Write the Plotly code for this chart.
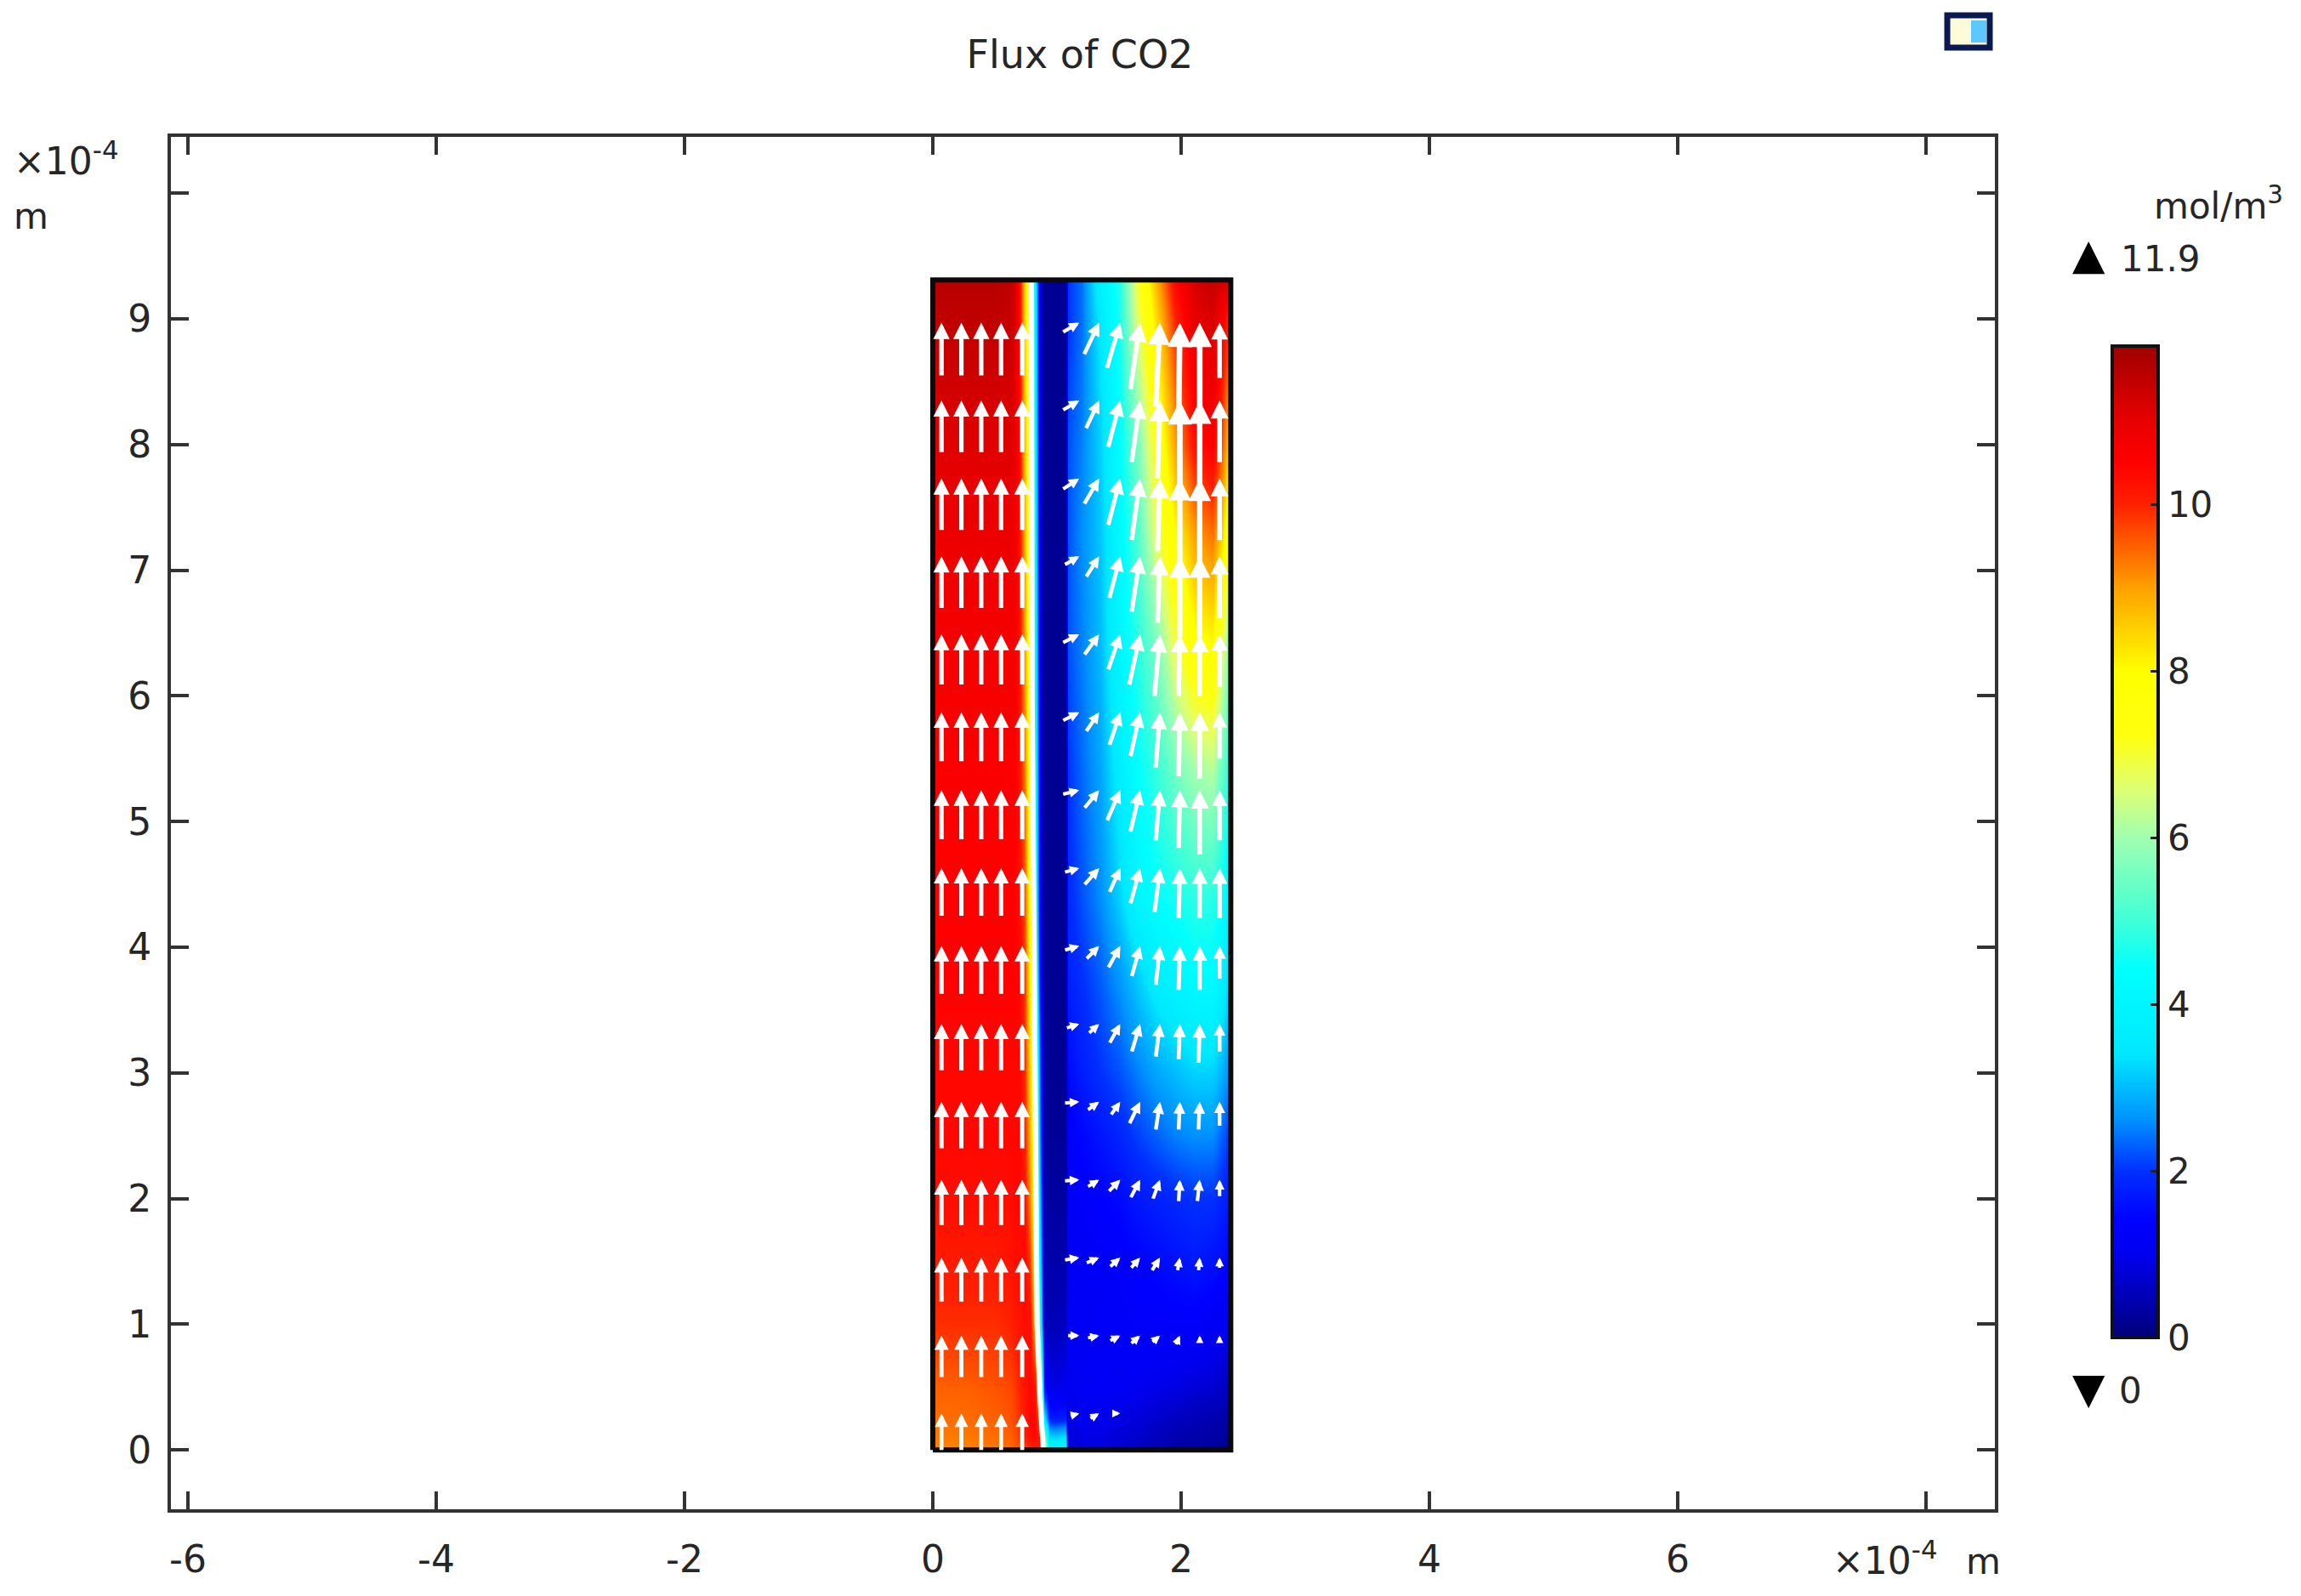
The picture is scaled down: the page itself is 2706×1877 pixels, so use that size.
import math
import plotly.graph_objects as go

TITLE = "Flux of CO2"
X_TICKS = [-6, -4, -2, 0, 2, 4, 6, 8]
X_LABELS = ["-6", "-4", "-2", "0", "2", "4", "6", ""]
Y_TICKS = list(range(0, 11))
Y_LABELS = ["0", "1", "2", "3", "4", "5", "6", "7", "8", "9", ""]
CB_TICKS = [0, 2, 4, 6, 8, 10]
Z_MIN, Z_MAX = 0, 11.9

# concentration field (mol/m3), x and y in 1e-4 m
FIELD_X = [0, .25, .5, .62, .66, .70, .74, .78, .82, .86, .90, .94, .98, 1.07,
           1.09, 1.2, 1.35, 1.5, 1.65, 1.8, 1.95, 2.1, 2.25, 2.33, 2.4]
FIELD_Y = [0, .1, .25, .5, 1, 1.5, 2, 2.5, 3, 3.8, 4.4, 5.4, 6.4, 7.3, 8, 9, 9.31]
FIELD_Z = [
 [9.2,9.2,9.3,9.4,9.5,9.6,9.7,9.8,9.9,10.4,7,4.2,4,4.2, .7,.8,.8,.7,.6,.5,.35,.3,.25,.2,.15],
 [9.3,9.3,9.4,9.5,9.6,9.8,10,10.3,10.4,10,6,3.3,3.2,3.4, .8,.9,.9,.8,.7,.55,.45,.4,.35,.3,.25],
 [9.4,9.4,9.5,9.6,9.7,9.9,10.1,10.4,10.4,9.2,3.6,1.8,1.7,1.8, .9,1,1,.9,.8,.7,.6,.5,.45,.4,.3],
 [9.5,9.5,9.6,9.7,9.8,10,10.2,10.4,10.2,7.8,1.5,1,.9,1, 1,1.1,1.2,1.1,1.05,.95,.9,.8,.75,.65,.6],
 [9.9,9.9,9.9,10,10.1,10.2,10.3,10.3,8.8,4.6,.6,.5,.5,.6, 1.1,1.15,1.2,1.25,1.3,1.3,1.3,1.3,1.2,1.1,1],
 [10.1,10.1,10.1,10.2,10.3,10.3,10.4,9.8,8,3.6,.5,.4,.4,.4, 1.1,1.2,1.25,1.3,1.4,1.5,1.6,1.7,1.6,1.5,1.4],
 [10.3,10.3,10.3,10.3,10.4,10.4,10.2,9.2,7.5,3,.4,.3,.3,.3, 1.2,1.3,1.4,1.5,1.7,1.8,1.9,2,2,1.85,1.7],
 [10.4,10.4,10.4,10.4,10.4,10.4,10,8.8,7.3,2.5,.3,.25,.25,.25, 1.3,1.45,1.65,1.85,2.1,2.3,2.5,2.6,2.6,2.3,2],
 [10.4,10.4,10.4,10.4,10.4,10.4,9.9,8.5,7,2.2,.3,.2,.2,.2, 1.5,1.75,2,2.2,2.5,2.8,3,3.2,3.2,2.9,2.5],
 [10.5,10.5,10.5,10.5,10.5,10.4,9.8,8,5.5,1.4,.25,.2,.2,.2, 1.8,2,2.3,2.7,3.2,3.7,4,4.3,4.3,3.8,3.2],
 [10.5,10.5,10.5,10.5,10.5,10.3,9.6,7.7,5,1.1,.2,.2,.2,.2, 1.9,2.2,2.6,3.2,4,4.4,4.6,4.8,4.8,4.4,3.9],
 [10.6,10.6,10.6,10.6,10.6,10.2,9.3,7.4,4.6,1,.2,.2,.2,.2, 2,2.35,2.8,3.6,4.4,4.9,5.5,6,6.2,5.4,4.6],
 [10.7,10.7,10.7,10.7,10.7,10.2,9,7.2,4.3,.9,.2,.2,.2,.2, 2.2,2.5,3,4,4.8,5.6,6.9,7.8,8,6.8,5.5],
 [10.9,10.9,10.9,10.9,10.8,10.2,8.8,7.1,4.2,.8,.2,.2,.2,.2, 2.2,2.6,3.1,4.1,5.2,6.8,8,9,9.4,8.5,7],
 [11.1,11.1,11.1,11.1,11,10.3,8.7,7,4.1,.8,.2,.2,.2,.2, 2.2,2.5,3.2,4.3,5.6,7.3,9,10.2,10.6,9.6,8.3],
 [11.5,11.5,11.5,11.4,11.2,10.3,8.5,7,4,.8,.2,.2,.2,.2, 2,2.4,3.5,4.6,6.7,8.4,10,11,11.2,10.6,9.8],
 [11.6,11.6,11.6,11.5,11.3,10.3,8.5,7,4,.8,.2,.2,.2,.2, 2,2.4,3.8,4.7,7,8.8,10.4,11.2,11.4,11.3,11.2],
]

# colour map: value, colour
CMAP_V = [0, .3, 1, 1.4, 2, 2.6, 3.4, 4.4, 5, 6, 6.6, 7.2, 8, 8.5, 9, 9.5, 10, 10.5, 11, 11.9]
CMAP_C = ["#000078", "#0000a0", "#0000f0", "#0000ff", "#0030ff", "#0090ff", "#00e8ff",
          "#00ffff", "#40ffd8", "#a0ffb0", "#e0ff70", "#ffff10", "#ffff00", "#ffd000",
          "#ffa000", "#ff6000", "#ff2000", "#ff0000", "#e80000", "#a00000"]

# domain outline and white interface between the gas channel and the membrane
OUTLINE_X = [0, 2.4, 2.4, 0, 0]
OUTLINE_Y = [0, 0, 9.31, 9.31, 0]
INTERFACE_X = [.89, .865, .84, .83, .81, .80, .797, .795]
INTERFACE_Y = [0, .4, 1, 2, 4, 6, 8, 9.31]

# arrows: tips on a regular grid, tail offsets read per row (top row first)
TIP_Y = [8.97, 8.35, 7.73, 7.11, 6.49, 5.87, 5.25, 4.63, 4.01, 3.39, 2.77, 2.15, 1.53, .91, .29]
LEFT_TIP_X = [.07, .23, .39, .55, .72]
LEFT_DY = [.43, .42, .42, .42, .41, .40, .40, .39, .39, .38, .38, .37, .36, .34, .30]
RIGHT_TIP_X = [1.18, 1.34, 1.51, 1.67, 1.83, 1.99, 2.15, 2.31]
RIGHT_DX = [
 [.14,.125,.11,.08,.035,.01,0,0],
 [.14,.11,.10,.07,.02,0,0,0],
 [.14,.125,.10,.07,.02,0,0,0],
 [.125,.11,.09,.07,.02,0,0,0],
 [.14,.125,.10,.09,.045,.01,0,0],
 [.14,.11,.09,.08,.035,.01,0,0],
 [.14,.125,.11,.08,.035,.01,0,0],
 [.125,.125,.09,.08,.045,.01,0,0],
 [.125,.11,.10,.07,.035,.01,0,0],
 [.11,.09,.09,.07,.035,.01,.01,0],
 [.125,.10,.08,.09,.035,.01,.01,0],
 [.125,.10,.10,.08,.06,.01,.02,0],
 [.125,.11,.09,.08,.07,.02,.01,0],
 [.10,.10,.09,.08,.07,.035,0,0],
 [.08,.08,.06,0,0,0,0,0],
]
RIGHT_DY = [
 [.08,.26,.37,.54,.68,.79,.79,.45],
 [.08,.23,.38,.50,.63,.77,.74,.50],
 [.09,.21,.38,.50,.59,.68,.70,.50],
 [.07,.17,.34,.45,.54,.65,.65,.50],
 [.07,.17,.29,.41,.50,.50,.50,.43],
 [.07,.16,.27,.36,.45,.52,.54,.38],
 [.035,.15,.25,.34,.41,.47,.52,.41],
 [.035,.14,.20,.29,.36,.41,.41,.41],
 [.035,.11,.18,.25,.32,.36,.36,.27],
 [.035,.08,.16,.23,.27,.29,.32,.23],
 [.01,.07,.11,.18,.23,.23,.23,.20],
 [.01,.06,.10,.15,.16,.18,.18,.14],
 [.02,.045,.08,.09,.11,.11,.11,.09],
 [0,.02,.045,.07,.06,.08,.035,.035],
 [.02,.045,0,0,0,0,0,0],
]

# page geometry
W, H = 2706, 1877
L, R, T, B = 201, 2346, 161, 1775
X_RANGE = [-6.137, 8.555]
Y_RANGE = [-0.472, 10.448]
CB_BOTTOM, CB_PX_PER_UNIT = 1573, 98
INK = "#262626"
FONT = "DejaVu Sans"
FS = 42
TICK_FS = 44


def px(x):
    return (x - L) / (R - L)


def py(y):
    return (B - y) / (B - T)


def note(text, x, y, xanchor="left", size=FS, color=INK):
    return dict(text=text, x=px(x), y=py(y), xref="paper", yref="paper", xanchor=xanchor,
                yanchor="middle", showarrow=False, font=dict(family=FONT, size=size, color=color))


def arrow(xt, yt, dx, dy):
    length = math.hypot(dx, dy)
    width = 3.5 + 4.0 * min(length, .8)
    head = 10 + 34 * min(length, .8)
    return dict(x=xt, y=yt, ax=xt - dx, ay=yt - dy, xref="x", yref="y", axref="x", ayref="y",
                text="", showarrow=True, arrowhead=2, arrowcolor="#ffffff", arrowwidth=width,
                arrowsize=max(.3, head / (6.4 * width)), startstandoff=0, standoff=0)


# thin repeated edges keep the smoothed field inside the domain
grid_x = [FIELD_X[0], FIELD_X[0] + 1e-4] + FIELD_X[1:-1] + [FIELD_X[-1] - 1e-4, FIELD_X[-1]]
grid_y = [FIELD_Y[0], FIELD_Y[0] + 1e-4] + FIELD_Y[1:-1] + [FIELD_Y[-1] - 1e-4, FIELD_Y[-1]]
def widen(row):
    return [row[0], row[0]] + row[1:-1] + [row[-1], row[-1]]
grid_z = [widen(r) for r in [FIELD_Z[0]] + FIELD_Z + [FIELD_Z[-1]]]

fig = go.Figure()
fig.add_trace(go.Heatmap(
    x=grid_x, y=grid_y, z=grid_z, zmin=Z_MIN, zmax=Z_MAX, zsmooth="best", hoverinfo="skip",
    colorscale=[[v / Z_MAX, c] for v, c in zip(CMAP_V, CMAP_C)],
    colorbar=dict(
        x=px(2484), xanchor="left", xpad=0, y=py(CB_BOTTOM), yanchor="bottom", ypad=0,
        thickness=54, thicknessmode="pixels", len=Z_MAX * CB_PX_PER_UNIT, lenmode="pixels",
        outlinecolor="#111111", outlinewidth=4, tickvals=CB_TICKS, ticks="inside", ticklen=11,
        tickwidth=3, tickcolor="#222222", tickfont=dict(family=FONT, size=FS, color=INK),
        tickprefix="\u2002"),
))
fig.add_trace(go.Scatter(x=INTERFACE_X, y=INTERFACE_Y, mode="lines", hoverinfo="skip", showlegend=False,
                         line=dict(color="#ffffff", width=6)))
fig.add_trace(go.Scatter(x=OUTLINE_X, y=OUTLINE_Y, mode="lines", hoverinfo="skip", showlegend=False,
                         line=dict(color="#0a0a0a", width=6)))

annotations = []
for k, y_tip in enumerate(TIP_Y):
    for x_tip in LEFT_TIP_X:
        annotations.append(arrow(x_tip, y_tip, 0, LEFT_DY[k]))
    for j, x_tip in enumerate(RIGHT_TIP_X):
        if RIGHT_DX[k][j] or RIGHT_DY[k][j]:
            annotations.append(arrow(x_tip, y_tip, RIGHT_DX[k][j], RIGHT_DY[k][j]))

annotations += [
    note("×10<sup>-4</sup>", 14, 187, size=44),
    note("m", 14, 254),
    note("×10<sup>-4</sup>", 2153, 1832, size=44),
    note("m", 2310, 1836),
    note("mol/m<sup>3</sup>", 2687, 239, xanchor="right"),
    note("▲", 2456, 299, xanchor="center", size=50, color="#000000"),
    note("11.9", 2492, 305),
    note("▼", 2456, 1633, xanchor="center", size=50, color="#000000"),
    note("0", 2490, 1635),
]

shapes = [
    dict(type="rect", xref="paper", yref="paper", x0=px(2290), x1=px(2340), y0=py(56), y1=py(18),
         line=dict(color="#0a1a50", width=7), fillcolor="#fdfbd8"),
    dict(type="rect", xref="paper", yref="paper", x0=px(2318), x1=px(2336), y0=py(50), y1=py(24),
         line=dict(width=0), fillcolor="#5cc8ff"),
]
# the colour bar carries its tick marks on both sides
for v in CB_TICKS[1:]:
    y_tick = CB_BOTTOM - v * CB_PX_PER_UNIT
    shapes.append(dict(type="line", xref="paper", yref="paper", x0=px(2486), x1=px(2497),
                       y0=py(y_tick), y1=py(y_tick), line=dict(color="#222222", width=3)))

axis = dict(showgrid=False, zeroline=False, showline=True, linecolor="#333333", linewidth=4,
            mirror="ticks", ticks="inside", ticklen=21, tickwidth=4, tickcolor="#333333",
            tickfont=dict(family=FONT, size=TICK_FS, color=INK))
fig.update_layout(
    width=W, height=H, autosize=False, margin=dict(l=L, r=W - R, t=T, b=H - B, pad=0),
    paper_bgcolor="#ffffff", plot_bgcolor="#ffffff", showlegend=False,
    title=dict(text=TITLE, x=1270 / W, y=1 - 64 / H, xanchor="center", yanchor="middle",
               font=dict(family=FONT, size=46, color=INK)),
    xaxis=dict(axis, range=X_RANGE, tickmode="array", tickvals=X_TICKS, ticktext=X_LABELS,
               ticklabelstandoff=17),
    yaxis=dict(axis, range=Y_RANGE, tickmode="array", tickvals=Y_TICKS, ticktext=Y_LABELS,
               ticklabelstandoff=10),
    annotations=annotations,
    shapes=shapes,
)
fig.write_html("out.html", post_script="document.body.style.margin='0';",
               config={"displayModeBar": False})
